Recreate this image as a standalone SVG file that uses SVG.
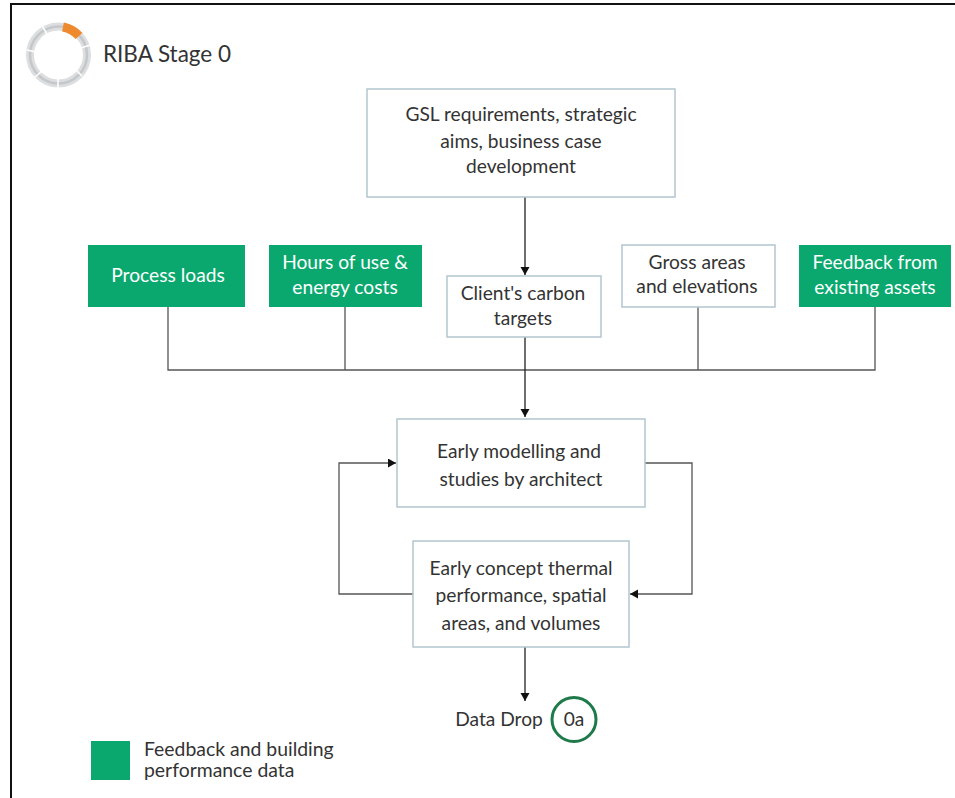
<svg xmlns="http://www.w3.org/2000/svg" width="955" height="798" viewBox="0 0 955 798">
<defs>
<marker id="arrow" markerUnits="userSpaceOnUse" markerWidth="10" markerHeight="10" refX="8" refY="4.5" orient="auto"><path d="M0,0L8,4.5L0,9Z" fill="#111"/></marker>
</defs>
<style>
text{font-family:"Lato","Liberation Sans",sans-serif;font-size:19.2px;fill:#333;text-anchor:middle}
.w{fill:#fff}
.box{fill:#fff;stroke:#b3c5cf;stroke-width:1.5}
.green{fill:#0aa86e}
.c{fill:none;stroke:#555;stroke-width:1.3}
.k{fill:none;stroke:#222;stroke-width:1.3}
.l{text-anchor:start;font-size:19.4px}
</style>
<rect width="955" height="798" fill="#fff"/>
<path d="M11,798V4H955" fill="none" stroke="#111" stroke-width="2"/>
<g id="stage-ring" fill="none">
<circle cx="58.500" cy="55" r="28.500" stroke="#dcdee0" stroke-width="8"/>
<circle cx="58.500" cy="55" r="28.500" stroke="#c4c8cb" stroke-width="2.500"/>
<path d="M63,27A28.500,28.500 0 0 1 79,36" stroke="#ee8a2d" stroke-width="9"/>
<path d="M41,24L47,34M27,50L36,52M34,78L42,71M58,88V78M82,76L75,69M90,45L81,48" stroke="#fff" stroke-width="1.500"/>
</g>
<text x="167" y="62" style="font-size:22.500px">RIBA Stage 0</text>
<g id="connectors">
<path class="k" d="M525,197V275" marker-end="url(#arrow)"/>
<path class="c" d="M168,306V370H875V306M345,306V370M698,306V370"/>
<path class="k" d="M525,337V417" marker-end="url(#arrow)"/>
<path class="c" d="M645,463H692V594H630" marker-end="url(#arrow)"/>
<path class="c" d="M413,594H339V463H396" marker-end="url(#arrow)"/>
<path class="k" d="M525,647V701" marker-end="url(#arrow)"/>
</g>
<g id="n-gsl"><rect class="box" x="367" y="89" width="308" height="108"/><text x="521" y="121">GSL requirements, strategic</text><text x="521" y="148">aims, business case</text><text x="521" y="173">development</text></g>
<g id="n-process"><rect class="green" x="88" y="245" width="157" height="62"/><text class="w" x="168" y="282">Process loads</text></g>
<g id="n-hours"><rect class="green" x="269" y="245" width="153" height="62"/><text class="w" x="345" y="269">Hours of use &amp;</text><text class="w" x="345" y="294">energy costs</text></g>
<g id="n-client"><rect class="box" x="447" y="276" width="154" height="61"/><text x="523" y="300">Client's carbon</text><text x="523" y="325">targets</text></g>
<g id="n-gross"><rect class="box" x="622" y="245" width="153" height="62"/><text x="697" y="269">Gross areas</text><text x="697" y="293">and elevations</text></g>
<g id="n-feedback"><rect class="green" x="799" y="245" width="152" height="62"/><text class="w" x="875" y="269">Feedback from</text><text class="w" x="875" y="294">existing assets</text></g>
<g id="n-early"><rect class="box" x="397" y="419" width="248" height="88"/><text x="519" y="458">Early modelling and</text><text x="521" y="486">studies by architect</text></g>
<g id="n-concept"><rect class="box" x="413" y="541" width="216" height="106"/><text x="521" y="575">Early concept thermal</text><text x="521" y="602">performance, spatial</text><text x="521" y="630">areas, and volumes</text></g>
<g id="n-drop"><text x="499" y="726">Data Drop</text><circle cx="574" cy="719.500" r="22" fill="none" stroke="#1f7a4a" stroke-width="3"/><text x="574" y="726">0a</text></g>
<g id="legend"><rect class="green" x="91" y="741" width="39" height="39"/><text class="l" x="144" y="756">Feedback and building</text><text class="l" x="144" y="777">performance data</text></g>
</svg>
